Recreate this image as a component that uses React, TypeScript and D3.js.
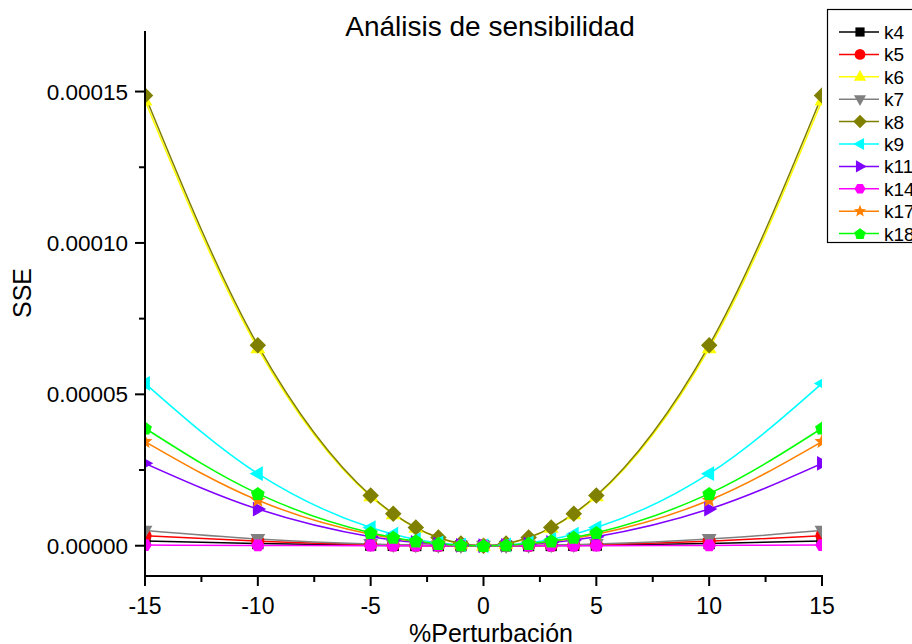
import React from "react";
import * as d3 from "d3";

const perturb = [-15, -10, -5, -4, -3, -2, -1, 0, 1, 2, 3, 4, 5, 10, 15];
// SSE values in units of 1e-5
const k4 = [0.16, 0.07, 0.018, 0.011, 0.006, 0.003, 0.001, 0, 0.001, 0.003, 0.006, 0.011, 0.018, 0.07, 0.16];
const k5 = [0.33, 0.15, 0.037, 0.024, 0.013, 0.006, 0.0015, 0, 0.0015, 0.006, 0.013, 0.024, 0.037, 0.15, 0.33];
const k6 = [14.7, 6.52, 1.63, 1.04, 0.59, 0.26, 0.065, 0, 0.065, 0.26, 0.59, 1.04, 1.63, 6.52, 14.7];
const k7 = [0.5, 0.22, 0.055, 0.035, 0.02, 0.009, 0.002, 0, 0.002, 0.009, 0.02, 0.035, 0.055, 0.22, 0.5];
const k8 = [14.87, 6.62, 1.66, 1.06, 0.6, 0.27, 0.07, 0, 0.07, 0.27, 0.6, 1.06, 1.66, 6.62, 14.87];
const k9 = [5.36, 2.38, 0.6, 0.38, 0.21, 0.095, 0.024, 0, 0.024, 0.095, 0.21, 0.38, 0.6, 2.38, 5.36];
const k11 = [2.72, 1.21, 0.3, 0.19, 0.11, 0.048, 0.012, 0, 0.012, 0.048, 0.11, 0.19, 0.3, 1.21, 2.72];
const k14 = [0.02, 0.01, 0.002, 0.001, 0.001, 0, 0, 0, 0, 0, 0.001, 0.001, 0.002, 0.01, 0.02];
const k17 = [3.44, 1.5, 0.38, 0.245, 0.138, 0.061, 0.015, 0, 0.015, 0.061, 0.138, 0.245, 0.38, 1.5, 3.44];
const k18 = [3.88, 1.72, 0.43, 0.275, 0.155, 0.069, 0.017, 0, 0.017, 0.069, 0.155, 0.275, 0.43, 1.72, 3.88];

const seriesNames = ["k4", "k5", "k6", "k7", "k8", "k9", "k11", "k14", "k17", "k18"];
const seriesValues = [k4, k5, k6, k7, k8, k9, k11, k14, k17, k18];
const seriesColors = ["#000000", "#ff0000", "#ffff00", "#808080", "#808000", "#00ffff", "#8000ff", "#ff00ff", "#ff8000", "#00ff00"];
const seriesShapes = ["square", "circle", "up", "down", "diamond", "left", "right", "hexagon", "star", "pentagon"];

const xTicks = [-15, -10, -5, 0, 5, 10, 15];
const xMinor = [-12.5, -7.5, -2.5, 2.5, 7.5, 12.5];
const yTicks = [0, 5, 10, 15];
const yMinor = [2.5, 7.5, 12.5];

const W = 912, H = 644;
const L = 145, R = 822, T = 31, B = 576;

function poly(pts: [number, number][]) {
  return "M" + pts.map((p) => p[0].toFixed(2) + "," + p[1].toFixed(2)).join("L") + "Z";
}

function shapePath(type: string, s: number): string {
  const r = s / 2;
  switch (type) {
    case "square": {
      const a = r * 0.68;
      return poly([[-a, -a], [a, -a], [a, a], [-a, a]]);
    }
    case "circle":
      return d3.symbol(d3.symbolCircle, Math.PI * (r * 0.8) ** 2)() as string;
    case "up":
      return poly([[0, -r], [r * 0.9, r * 0.6], [-r * 0.9, r * 0.6]]);
    case "down":
      return poly([[0, r], [r * 0.9, -r * 0.6], [-r * 0.9, -r * 0.6]]);
    case "left":
      return poly([[-r, 0], [r * 0.6, -r * 0.9], [r * 0.6, r * 0.9]]);
    case "right":
      return poly([[r, 0], [-r * 0.6, -r * 0.9], [-r * 0.6, r * 0.9]]);
    case "diamond":
      return poly([[0, -r], [r, 0], [0, r], [-r, 0]]);
    case "hexagon": {
      const pts: [number, number][] = [];
      for (let i = 0; i < 6; i++) {
        const a = (Math.PI / 3) * i;
        pts.push([r * 0.82 * Math.cos(a), r * 0.82 * Math.sin(a)]);
      }
      return poly(pts);
    }
    case "pentagon": {
      const pts: [number, number][] = [];
      for (let i = 0; i < 5; i++) {
        const a = -Math.PI / 2 + (2 * Math.PI / 5) * i;
        pts.push([r * 0.88 * Math.cos(a), r * 0.88 * Math.sin(a) + 0.5]);
      }
      return poly(pts);
    }
    case "star": {
      const pts: [number, number][] = [];
      for (let i = 0; i < 10; i++) {
        const a = -Math.PI / 2 + (Math.PI / 5) * i;
        const rr = i % 2 === 0 ? r * 0.95 : r * 0.42;
        pts.push([rr * Math.cos(a), rr * Math.sin(a)]);
      }
      return poly(pts);
    }
  }
  return "";
}

export default function App() {
  const x = d3.scaleLinear().domain([-15, 15]).range([L, R]);
  const y = d3.scaleLinear().domain([-1, 17]).range([B, T]);
  const line = d3
    .line<number>()
    .x((_, i) => x(perturb[i]))
    .y((d) => y(d))
    .curve(d3.curveMonotoneX);

  const font = "'Liberation Sans', Arial, sans-serif";

  return (
    <svg width={W} height={H} style={{ position: "absolute", left: 0, top: 0, background: "#fff" }} fontFamily={font}>
      <rect x={0} y={0} width={W} height={H} fill="#fff" />
      <defs>
        <clipPath id="plotclip">
          <rect x={L} y={0} width={R - L} height={B} />
        </clipPath>
      </defs>
      <text x={490} y={36} fontSize={28} textAnchor="middle" fill="#000">
        Análisis de sensibilidad
      </text>

      <g clipPath="url(#plotclip)">
        {seriesValues.map((vals, si) => (
          <path key={"l" + si} d={line(vals) as string} fill="none" stroke={seriesColors[si]} strokeWidth={1.5} />
        ))}
        {seriesValues.map((vals, si) => (
          <g key={"m" + si}>
            {vals.map((v, i) => (
              <path
                key={i}
                d={shapePath(seriesShapes[si], 16.5)}
                transform={`translate(${x(perturb[i])},${y(v)})`}
                fill={seriesColors[si]}
              />
            ))}
          </g>
        ))}
      </g>

      {/* axes */}
      <line x1={L} y1={T} x2={L} y2={B + 1} stroke="#000" strokeWidth={2} />
      <line x1={L - 1} y1={B} x2={R + 1} y2={B} stroke="#000" strokeWidth={2} />
      {xTicks.map((t) => (
        <g key={"xt" + t}>
          <line x1={x(t)} x2={x(t)} y1={B} y2={B + 10} stroke="#000" strokeWidth={2} />
          <text x={x(t)} y={614} fontSize={23} textAnchor="middle" fill="#000">
            {t}
          </text>
        </g>
      ))}
      {xMinor.map((t) => (
        <line key={"xm" + t} x1={x(t)} x2={x(t)} y1={B} y2={B + 6} stroke="#000" strokeWidth={2} />
      ))}
      {yTicks.map((t) => (
        <g key={"yt" + t}>
          <line x1={L - 10} x2={L} y1={y(t)} y2={y(t)} stroke="#000" strokeWidth={2} />
          <text x={128} y={y(t) + 8} fontSize={22.5} textAnchor="end" fill="#000">
            {(t * 1e-5).toFixed(5)}
          </text>
        </g>
      ))}
      {yMinor.map((t) => (
        <line key={"ym" + t} x1={L - 6} x2={L} y1={y(t)} y2={y(t)} stroke="#000" strokeWidth={2} />
      ))}
      <text x={491} y={642} fontSize={25} textAnchor="middle" fill="#000">
        %Perturbación
      </text>
      <text transform="translate(31,293) rotate(-90)" fontSize={25} textAnchor="middle" fill="#000">
        SSE
      </text>

      {/* legend */}
      <rect x={827.5} y={9.5} width={100} height={233} fill="#fff" stroke="#000" strokeWidth={1.2} />
      {seriesNames.map((n, i) => {
        const ly = 32 + i * 22.4;
        return (
          <g key={"lg" + n}>
            <line x1={839} x2={879} y1={ly} y2={ly} stroke={seriesColors[i]} strokeWidth={1.5} />
            <path d={shapePath(seriesShapes[i], 13.5)} transform={`translate(860,${ly})`} fill={seriesColors[i]} />
            <text x={884} y={ly + 7} fontSize={19} fill="#000">
              {n}
            </text>
          </g>
        );
      })}
    </svg>
  );
}
